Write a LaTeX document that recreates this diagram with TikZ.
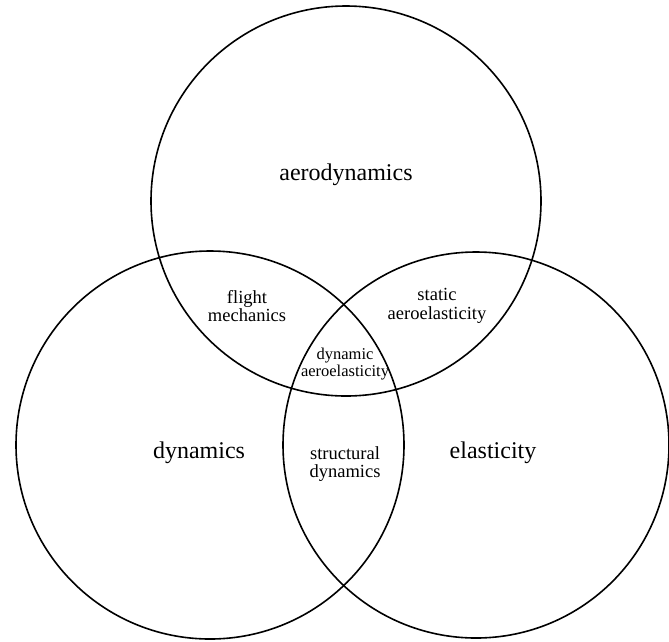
\documentclass[tikz,border=0pt]{standalone}
\usepackage{fontspec}
\setmainfont{Liberation Serif}
\begin{document}
\begin{tikzpicture}[x=1pt,y=-1pt,
  ring/.style={circle,draw=black,line width=1.6pt,inner sep=0pt,outer sep=0pt},
  big/.style={font=\fontsize{24}{26}\selectfont,inner sep=0pt},
  small/.style={font=\fontsize{18.5}{18.5}\selectfont,align=center,inner sep=0pt}]
\useasboundingbox (0,0) rectangle (669,641);
\node[ring,minimum size=390pt] (aero) at (346,201) {};
\node[ring,minimum size=388pt] (dyn) at (210,445) {};
\node[ring,minimum size=386pt] (ela) at (476,445) {};
\node[big] (laero) at (346,175) {aerodynamics};
\node[big] (ldyn) at (199,453) {dynamics};
\node[big] (lela) at (493,453) {elasticity};
\node[small] (lfm) at (247,306) {flight\\mechanics};
\node[small] (lsa) at (437,306) {static\\aeroelasticity};
\node[small,font=\fontsize{16.5}{16.5}\selectfont] (lda) at (345,364) {dynamic\\aeroelasticity};
\node[small] (lsd) at (345,464) {structural\\dynamics};
\end{tikzpicture}
\end{document}
